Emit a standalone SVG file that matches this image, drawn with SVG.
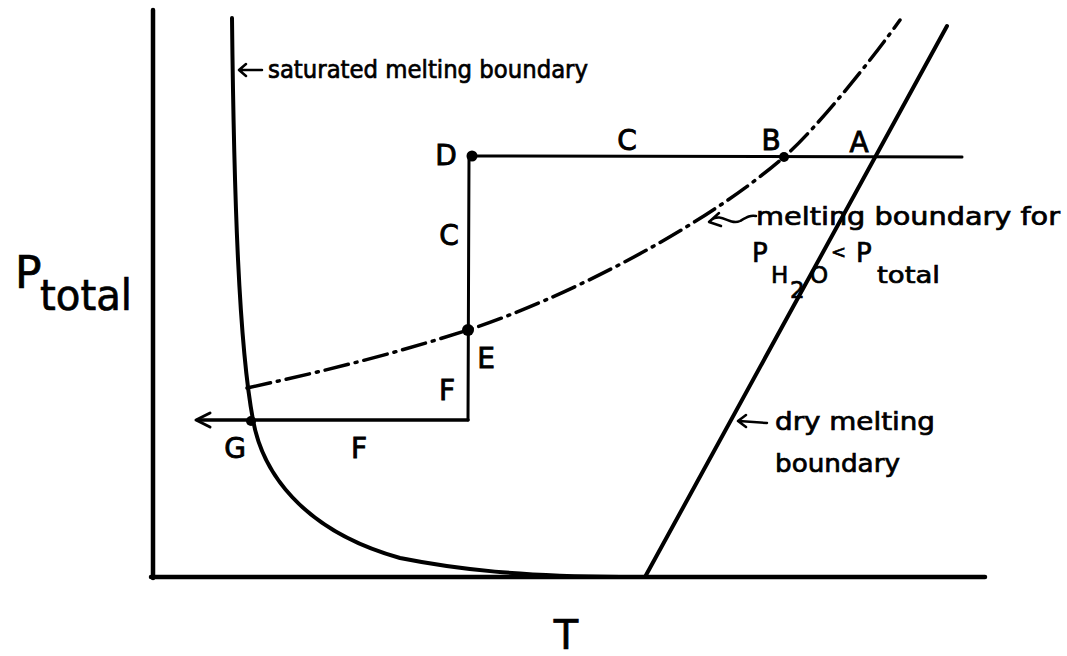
<svg xmlns="http://www.w3.org/2000/svg" width="1067" height="656" viewBox="0 0 1067 656">
<style>
.ln{fill:none;stroke:#000;stroke-linecap:round;stroke-linejoin:round}
.t{font-family:"DejaVu Sans","Liberation Sans",sans-serif;fill:#000;stroke:#000;stroke-width:0.7}
.lbl{font-family:"DejaVu Sans","Liberation Sans",sans-serif;font-size:28px;fill:#000;stroke:#000;stroke-width:0.9;text-anchor:middle}
.dot{fill:#000}
</style>
<rect width="1067" height="656" fill="#fff"/>
<g id="axes">
<path class="ln" d="M153,10 L153,578" stroke-width="4.5"/>
<path class="ln" d="M151,577 L985,577" stroke-width="4.5"/>
<text class="t" x="15" y="288" font-size="44">P</text>
<text class="t" x="40" y="310" font-size="42" textLength="92" lengthAdjust="spacingAndGlyphs" stroke-width="1">total</text>
<text class="t" x="566" y="649" font-size="40" text-anchor="middle">T</text>
</g>
<g id="connectors">
<path id="saturated-curve" class="ln" stroke-width="4" d="M232,18 C234,200 239,345 253,420 C262,470 300,530 400,558 C460,570 520,576 620,577"/>
<path id="dry-line" class="ln" stroke-width="4" d="M645,577 L947,26"/>
<path id="hydrous-curve" class="ln" stroke-width="3.5" stroke-dasharray="24 7 2 7" d="M247,388 C330,370 400,352 468,330 C560,300 700,230 784,157 C815,130 870,62 900,20"/>
<path id="path-DA" class="ln" stroke-width="3" d="M472,156 L962,157"/>
<path id="path-DF" class="ln" stroke-width="3" d="M469,156 L468,420"/>
<path id="path-FG" class="ln" stroke-width="3.5" d="M468,420 L198,420"/>
<path class="ln" stroke-width="3" d="M210,413 L196,420 L210,427"/>
</g>
<g id="point-D"><circle class="dot" cx="472" cy="156" r="5.5"/><text class="lbl" x="446" y="165">D</text></g>
<g id="label-C1"><text class="lbl" x="627" y="150">C</text></g>
<g id="point-B"><circle class="dot" cx="784" cy="157" r="5"/><text class="lbl" x="771" y="150">B</text></g>
<g id="point-A"><text class="lbl" x="859" y="152">A</text></g>
<g id="label-C2"><text class="lbl" x="449" y="245">C</text></g>
<g id="point-E"><circle class="dot" cx="468" cy="330" r="6"/><text class="lbl" x="486" y="368">E</text></g>
<g id="label-F1"><text class="lbl" x="447" y="400">F</text></g>
<g id="point-G"><circle class="dot" cx="251" cy="421" r="5"/><text class="lbl" x="235" y="458">G</text></g>
<g id="label-F2"><text class="lbl" x="359" y="458">F</text></g>
<g id="label-saturated">
<path class="ln" stroke-width="2.5" d="M240,70 L262,70 M246,64 L239,70 L246,76"/>
<text class="t" x="268" y="78" font-size="24" textLength="320" lengthAdjust="spacingAndGlyphs">saturated melting boundary</text>
</g>
<g id="label-hydrous">
<path class="ln" stroke-width="2.5" d="M709,222 L719,213 M709,222 L721,226 M711,220 C722,212 730,226 740,221 C747,217 750,215 756,216"/>
<text class="t" x="756" y="225" font-size="24" textLength="304" lengthAdjust="spacingAndGlyphs">melting boundary for</text>
<text class="t" x="752" y="262" font-size="26">P</text>
<text class="t" x="771" y="283" font-size="23">H</text>
<text class="t" x="790" y="298" font-size="23">2</text>
<text class="t" x="810" y="283" font-size="23">O</text>
<text class="t" x="831" y="258" font-size="18">&lt;</text>
<text class="t" x="856" y="262" font-size="26">P</text>
<text class="t" x="877" y="283" font-size="23" textLength="63" lengthAdjust="spacingAndGlyphs">total</text>
</g>
<g id="label-dry">
<path class="ln" stroke-width="2.5" d="M739,421 L767,423 M746,415 L738,421 L746,427"/>
<text class="t" x="775" y="430" font-size="24" textLength="160" lengthAdjust="spacingAndGlyphs">dry melting</text>
<text class="t" x="775" y="472" font-size="24" textLength="125" lengthAdjust="spacingAndGlyphs">boundary</text>
</g>
</svg>
